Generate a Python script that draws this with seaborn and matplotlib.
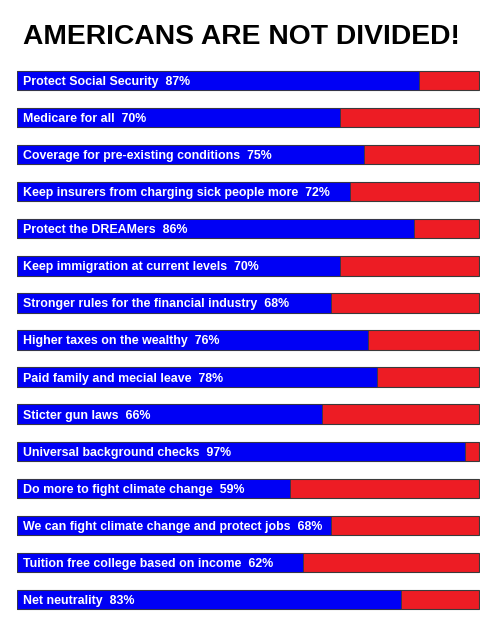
import matplotlib
matplotlib.use("Agg")
import matplotlib.pyplot as plt
import seaborn as sns
import pandas as pd

categories = [
    "Protect Social Security",
    "Medicare for all",
    "Coverage for pre-existing conditions",
    "Keep insurers from charging sick people more",
    "Protect the DREAMers",
    "Keep immigration at current levels",
    "Stronger rules for the financial industry",
    "Higher taxes on the wealthy",
    "Paid family and mecial leave",
    "Sticter gun laws",
    "Universal background checks",
    "Do more to fight climate change",
    "We can fight climate change and protect jobs",
    "Tuition free college based on income",
    "Net neutrality",
]
support = [87, 70, 75, 72, 86, 70, 68, 76, 78, 66, 97, 59, 68, 62, 83]
total = [100] * len(categories)

df = pd.DataFrame({"category": categories, "support": support, "total": total})

sns.set_theme(style="white")
plt.rcParams["font.family"] = ["Liberation Sans", "DejaVu Sans"]

fig = plt.figure(figsize=(4.97, 6.40), dpi=100)
fig.patch.set_facecolor("white")
ax = fig.add_axes([17 / 497, 1 - 618 / 640, 463 / 497, 556 / 640])

sns.barplot(data=df, y="category", x="total", orient="h", color="#ED1C24",
            saturation=1, width=0.52, edgecolor="#3a3a3a", linewidth=0.8, ax=ax)
sns.barplot(data=df, y="category", x="support", orient="h", color="#0000F5",
            saturation=1, width=0.52, edgecolor="#3a3a3a", linewidth=0.6, ax=ax)

for i, (c, v) in enumerate(zip(categories, support)):
    ax.text(1.3, i, f"{c}  {v}%", color="white", fontsize=8.9, fontweight="bold",
            va="center_baseline", ha="left")

ax.set_xlim(0, 100.2)
ax.set_ylim(len(categories) - 0.5, -0.5)
ax.axis("off")

fig.text(241 / 497, 1 - 37 / 640, "AMERICANS ARE NOT DIVIDED!", ha="center", va="center",
         fontsize=20.3, fontweight="bold", color="black")

fig.savefig("out.png", dpi=100, facecolor="white")
